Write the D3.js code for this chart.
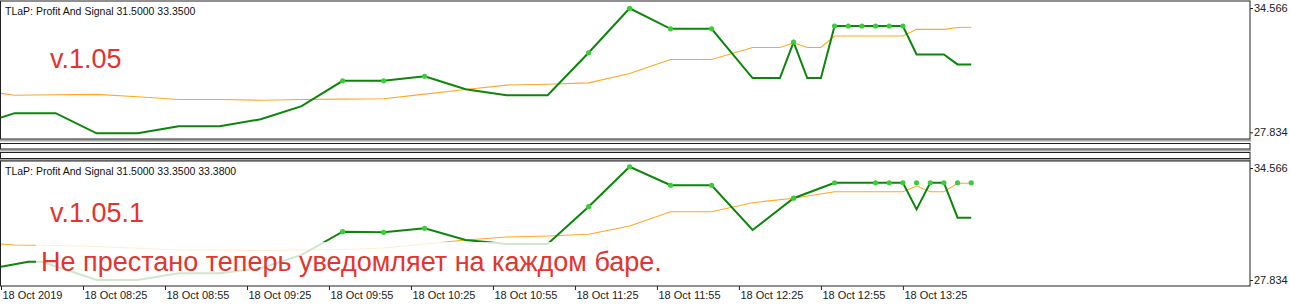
<!DOCTYPE html>
<html>
<head>
<meta charset="utf-8">
<script src="https://cdn.jsdelivr.net/npm/d3@7"></script>
<style>
  html, body { margin: 0; padding: 0; background: #fff; }
  svg { display: block; }
  text { font-family: "Liberation Sans", Arial, sans-serif; }
</style>
</head>
<body>
<div id="chart"></div>
<script>
// ---- data (bar index = M5 bar from 18 Oct 07:55) ----
const timeTickBars = [0, 6, 12, 18, 24, 30, 36, 42, 48, 54, 60, 66];
const timeLabels = ["18 Oct 2019", "18 Oct 08:25", "18 Oct 08:55", "18 Oct 09:25",
  "18 Oct 09:55", "18 Oct 10:25", "18 Oct 10:55", "18 Oct 11:25", "18 Oct 11:55",
  "18 Oct 12:25", "18 Oct 12:55", "18 Oct 13:25"];
const priceLevels = [34.566, 27.834];

// v.1.05 window
const topBars = [0, 1, 4, 7, 10, 13, 16, 19, 22, 25, 28, 31, 34, 37, 40, 43, 46, 49, 52,
  55, 57, 58, 59, 60, 61, 62, 63, 64, 65, 66, 67, 69, 70, 71];
const topProfit = [28.63, 28.87, 28.87, 27.78, 27.78, 28.16, 28.16, 28.54, 29.25, 30.62,
  30.62, 30.87, 30.17, 29.84, 29.84, 32.14, 34.55, 33.44, 33.44, 30.77, 30.77, 32.72,
  30.77, 30.77, 33.59, 33.59, 33.59, 33.59, 33.59, 33.59, 32.05, 32.05, 31.51, 31.51];
const topSignal = [29.94, 29.84, 29.87, 29.89, 29.76, 29.61, 29.61, 29.57, 29.61, 29.63,
  29.65, 29.90, 30.15, 30.39, 30.44, 30.51, 31.02, 31.78, 31.78, 32.43, 32.43, 32.68,
  32.43, 32.43, 33.05, 33.05, 33.05, 33.05, 33.05, 33.05, 33.41, 33.41, 33.51, 33.52];
const topDotBars = [25, 28, 31, 43, 46, 49, 52, 58, 61, 62, 63, 64, 65, 66];
const topDots = [30.62, 30.62, 30.87, 32.14, 34.55, 33.44, 33.44, 32.72, 33.59, 33.59,
  33.59, 33.59, 33.59, 33.59];

// v.1.05.1 window
const botProfitBars = [0, 2, 3, 7, 10, 13, 16, 19, 22, 25, 28, 31, 34, 37, 40, 43, 46, 49,
  52, 55, 58, 61, 66, 67, 68, 69, 70, 71];
const botProfit = [28.63, 28.93, 28.93, 27.83, 27.83, 28.24, 28.24, 28.54, 29.34, 30.74,
  30.70, 30.94, 30.24, 30.00, 30.00, 32.24, 34.64, 33.53, 33.53, 30.84, 32.75, 33.68,
  33.68, 32.08, 33.68, 33.68, 31.58, 31.58];
const botSignalBars = [0, 1, 4, 7, 10, 13, 16, 19, 22, 25, 28, 31, 34, 37, 40, 43, 46, 49,
  52, 55, 58, 61, 66, 67, 68, 69, 70, 71];
const botSignal = [30.00, 29.94, 29.91, 29.85, 29.74, 29.64, 29.64, 29.61, 29.64, 29.67,
  29.76, 30.00, 30.24, 30.42, 30.48, 30.58, 31.08, 31.94, 31.94, 32.48, 32.75, 33.14,
  33.14, 33.48, 33.14, 33.14, 33.65, 33.65];
const botDotBars = [25, 28, 31, 43, 46, 49, 52, 58, 61, 64, 65, 66, 67, 68, 69, 70, 71];
const botDots = [30.74, 30.70, 30.94, 32.24, 34.64, 33.53, 33.53, 32.75, 33.68, 33.68,
  33.68, 33.68, 33.68, 33.68, 33.68, 33.68, 33.68];

const W = 1290, H = 306, plotRight = 1250;
const red = "#e5332d";

const svg = d3.select("#chart").append("svg")
  .attr("width", W)
  .attr("height", H);

const x = d3.scaleLinear().domain([0, 91.4]).range([1, plotRight]);

function drawPanel(p) {
  let y = d3.scaleLinear().domain([priceLevels[1], priceLevels[0]]).range([p.yLow, p.yHigh]);
  let g = svg.append("g");

  g.append("clipPath").attr("id", p.id)
    .append("rect").attr("x", 1).attr("y", p.top).attr("width", plotRight - 1).attr("height", p.bottom - p.top);

  let plot = g.append("g").attr("clip-path", "url(#" + p.id + ")");
  let line = d3.line().x(d => x(d[0])).y(d => y(d[1]));

  plot.append("path")
    .datum(d3.zip(p.sigBars, p.signal))
    .attr("d", line)
    .attr("fill", "none")
    .attr("stroke", "#ffa726")
    .attr("stroke-width", 1.1);

  plot.append("path")
    .datum(d3.zip(p.profitBars, p.profit))
    .attr("d", line)
    .attr("fill", "none")
    .attr("stroke", "#0b860b")
    .attr("stroke-width", 2);

  plot.selectAll("circle")
    .data(d3.zip(p.dotBars, p.dots))
    .enter().append("circle")
    .attr("cx", d => x(d[0]))
    .attr("cy", d => y(d[1]))
    .attr("r", 2.6)
    .attr("fill", "#3acd3a");

  if (p.fade) {
    // translucent box behind the note
    g.append("rect").attr("x", p.fade[0]).attr("y", p.fade[1])
      .attr("width", p.fade[2]).attr("height", p.fade[3])
      .attr("fill", "#fff").attr("opacity", 0.8);
  }

  g.append("rect")
    .attr("x", 0.5).attr("y", p.top - 0.5)
    .attr("width", plotRight - 0.5).attr("height", p.bottom - p.top + 1)
    .attr("fill", "none").attr("stroke", "#222");

  let ax = g.append("g")
    .attr("transform", "translate(" + plotRight + ",0)")
    .call(d3.axisRight(y).tickValues(priceLevels).tickFormat(d3.format(".3f")).tickSize(3).tickPadding(1));
  ax.select(".domain").remove();
  ax.selectAll("line").attr("stroke", "#222");
  ax.selectAll("text").attr("font-size", 11).attr("fill", "#222")
    .attr("font-family", "'Liberation Sans', Arial, sans-serif");

  g.append("text").attr("x", 5).attr("y", p.top + 13.5)
    .attr("font-size", 10.5).attr("fill", "#111").text(p.title);

  p.notes.forEach(n => {
    g.append("text").attr("x", n.x).attr("y", n.y)
      .attr("font-size", 27).attr("fill", red).text(n.text);
  });
}

// window splitters between the two panes
const strips = [[143, 148.5], [152, 158]];
svg.selectAll(".split").data([139.5, 149.5, 159]).enter().append("rect")
  .attr("x", 0).attr("y", d => d).attr("width", plotRight + 1).attr("height", 2)
  .attr("fill", "#a8a8a8");
svg.selectAll(".strip").data(strips).enter().append("rect")
  .attr("x", 0.5).attr("y", d => d[0] + 0.5)
  .attr("width", plotRight - 0.5).attr("height", d => d[1] - d[0])
  .attr("fill", "#fff").attr("stroke", "#222");

drawPanel({
  id: "clipTop", top: 1.5, bottom: 138.5, yHigh: 8, yLow: 132.3,
  title: "TLaP: Profit And Signal 31.5000 33.3500",
  profitBars: topBars, profit: topProfit, sigBars: topBars, signal: topSignal,
  dotBars: topDotBars, dots: topDots,
  notes: [{ x: 50, y: 68, text: "v.1.05" }]
});

drawPanel({
  id: "clipBot", top: 161.5, bottom: 285.5, yHigh: 168, yLow: 280,
  title: "TLaP: Profit And Signal 31.5000 33.3500 33.3800",
  profitBars: botProfitBars, profit: botProfit, sigBars: botSignalBars, signal: botSignal,
  dotBars: botDotBars, dots: botDots,
  fade: [36, 242, 646, 43],
  notes: [{ x: 50, y: 221.5, text: "v.1.05.1" },
          { x: 41, y: 271, text: "Не престано теперь уведомляет на каждом баре." }]
});

// time axis under the lower pane
let tAxis = svg.append("g")
  .attr("transform", "translate(0,286)")
  .call(d3.axisBottom(x).tickValues(timeTickBars).tickSize(4).tickPadding(1)
    .tickFormat((d, i) => timeLabels[i]));
tAxis.select(".domain").remove();
tAxis.selectAll("line").attr("stroke", "#222");
tAxis.selectAll("text")
  .attr("text-anchor", "start").attr("dx", 1)
  .attr("font-size", 11).attr("fill", "#222")
  .attr("font-family", "'Liberation Sans', Arial, sans-serif");
</script>
</body>
</html>
